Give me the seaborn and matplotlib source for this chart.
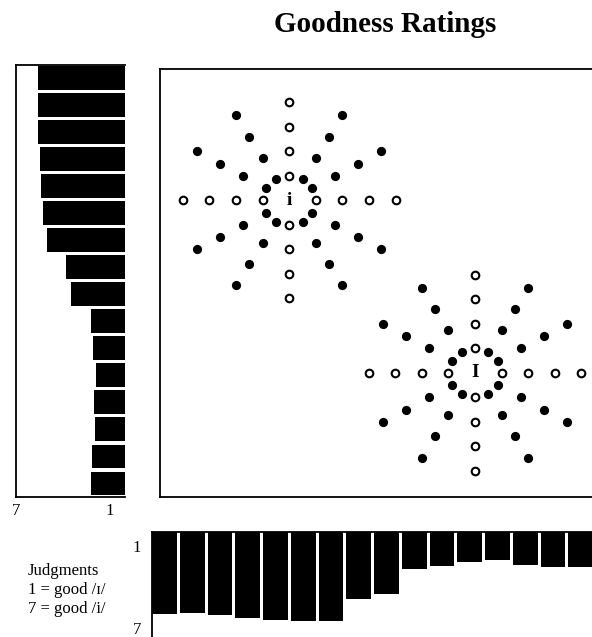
import numpy as np
import pandas as pd
import seaborn as sns
import matplotlib.pyplot as plt

# goodness ratings (1 = good /ɪ/, 7 = good /i/), 16 stimuli per continuum
left_ratings = [5.57, 5.57, 5.61, 5.46, 5.39, 5.24, 5.01, 3.79,
                3.49, 2.20, 2.04, 1.89, 1.97, 1.91, 2.14, 2.20]
bottom_ratings = [5.95, 5.88, 6.06, 6.25, 6.37, 6.44, 6.44, 4.84,
                  4.50, 2.69, 2.45, 2.18, 2.06, 2.43, 2.57, 2.57]
stimulus = list(range(16))

# stimulus grids around the two prototypes
star_labels = ["i", "I"]
star_cx = [4.86, 11.84]
star_cy = [12.11, 5.07]
ring_radii = [1, 2, 3, 4]
ray_angles = [0, 30, 60, 90, 120, 150, 180, 210, 240, 270, 300, 330]
open_angles = [0, 90, 180, 270]

rows = []
for cx, cy in zip(star_cx, star_cy):
    for a in ray_angles:
        for r in ring_radii:
            rows.append({
                "x": cx + r * np.cos(np.radians(a)),
                "y": cy + r * np.sin(np.radians(a)),
                "kind": "open" if a in open_angles else "filled",
            })
pts = pd.DataFrame(rows)

sns.set_style("white")
plt.rcParams["font.family"] = ["Liberation Serif", "DejaVu Serif"]
plt.rcParams["text.color"] = "black"
plt.rcParams["xtick.color"] = "black"
plt.rcParams["ytick.color"] = "black"

W, H = 592, 637
fig = plt.figure(figsize=(W / 100, H / 100), dpi=100)


def px_axes(x0, y0, x1, y1):
    return fig.add_axes([x0 / W, 1 - y1 / H, (x1 - x0) / W, (y1 - y0) / H])


# main panel
ax = px_axes(160, 69, 600, 497)
filled = pts[pts["kind"] == "filled"]
hollow = pts[pts["kind"] == "open"]
sns.scatterplot(data=filled, x="x", y="y", color="black", s=44,
                linewidth=0, ax=ax)
sns.scatterplot(data=hollow, x="x", y="y", facecolor="white",
                edgecolor="black", s=30, linewidth=1.5, ax=ax)
for lab, cx, cy in zip(star_labels, star_cx, star_cy):
    ax.text(cx, cy, lab, ha="center", va="center", fontsize=14,
            fontweight="bold", color="black")
ax.set_xlim(0, 440 / 26.6)
ax.set_ylim(0, 428 / 24.5)
ax.set_xticks([])
ax.set_yticks([])
ax.set_xlabel("")
ax.set_ylabel("")
for side in ["left", "top", "bottom"]:
    ax.spines[side].set_color("black")
    ax.spines[side].set_linewidth(1.3)
ax.spines["right"].set_visible(False)

# left panel: horizontal bars growing leftwards
axl = px_axes(16, 65, 125, 497)
sns.barplot(x=left_ratings, y=stimulus, orient="h", color="black",
            saturation=1, width=0.88, linewidth=0, ax=axl)
axl.set_xlim(7, 0)
axl.set_ylim(15.5, -0.47)
axl.set_xticks([7, 1])
axl.set_xticklabels(["7", "1"], fontsize=12)
axl.set_yticks([])
axl.set_xlabel("")
axl.set_ylabel("")
axl.tick_params(axis="x", length=0, pad=4)
for side in ["left", "top", "bottom"]:
    axl.spines[side].set_color("black")
    axl.spines[side].set_linewidth(1.3)
axl.spines["right"].set_visible(False)

# bottom panel: vertical bars hanging down
axb = px_axes(152, 532, 596, 637)
sns.barplot(x=stimulus, y=bottom_ratings, color="black", saturation=1,
            width=0.9, linewidth=0, ax=axb)
axb.set_xlim(-0.45, 15.55)
axb.set_ylim(7.63, 0)
axb.set_yticks([1, 7])
axb.set_yticklabels(["1", "7"], fontsize=12)
axb.set_xticks([])
axb.set_xlabel("")
axb.set_ylabel("")
axb.tick_params(axis="y", length=0, pad=8)
for side in ["left", "top"]:
    axb.spines[side].set_color("black")
    axb.spines[side].set_linewidth(1.3)
axb.spines["right"].set_visible(False)
axb.spines["bottom"].set_visible(False)

fig.text(385 / W, 1 - 24 / H, "Goodness Ratings", ha="center", va="center",
         fontsize=21, fontweight="bold")
fig.text(28 / W, 1 - 590 / H, "Judgments\n1 = good /ɪ/\n7 = good /i/",
         ha="left", va="center", fontsize=12, linespacing=1.25)

fig.savefig("out.png", dpi=100)
